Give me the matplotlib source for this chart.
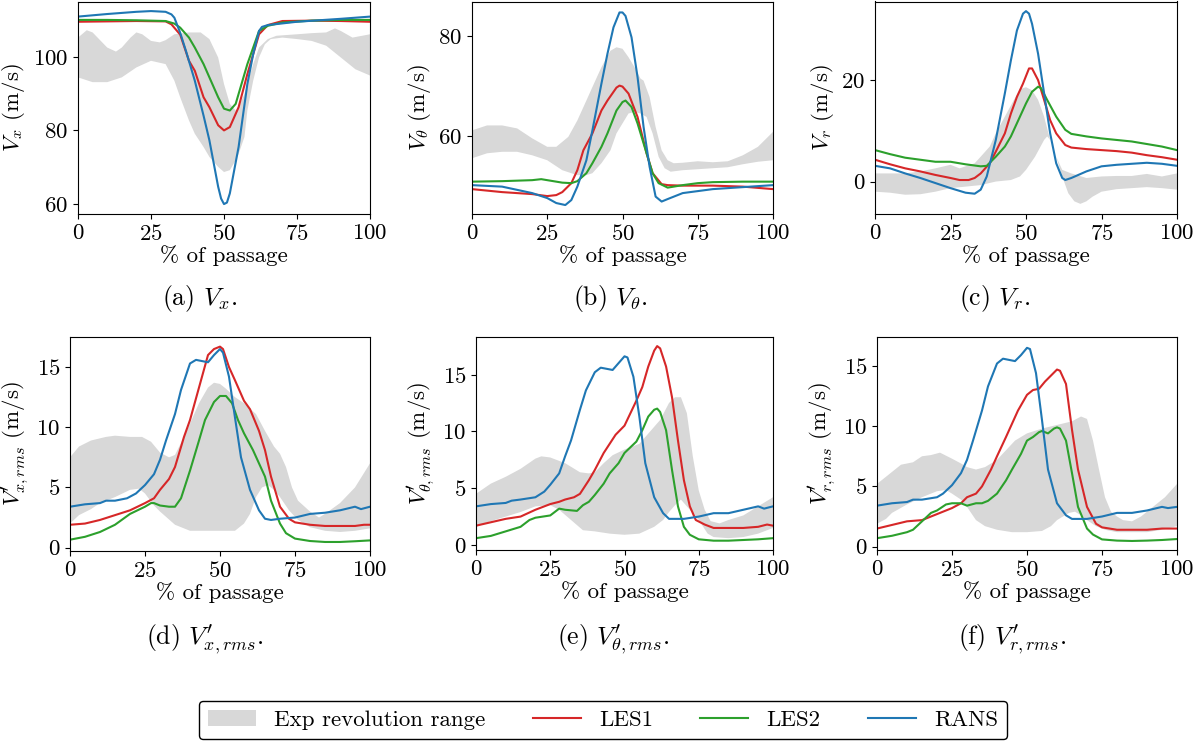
import numpy as np
import matplotlib
matplotlib.use("Agg")
import matplotlib.pyplot as plt
from matplotlib.ticker import MultipleLocator

plt.rcParams['font.family'] = 'serif'
plt.rcParams['font.serif'] = ['cmr10']
plt.rcParams['mathtext.fontset'] = 'cm'
plt.rcParams['axes.formatter.use_mathtext'] = True
plt.rcParams['font.size'] = 16.5

# ---- (a) Vx ----
vx_exp_hi = np.array([(0, 105.2), (3, 107.2), (5, 106.6), (10, 102.5), (13, 101.4), (15, 102.5), (18, 105.2),
                      (20, 106.6), (22, 106.1), (25, 104.3), (28, 103.9), (30, 104.5), (33, 106.1), (38, 106.6),
                      (42, 106.6), (45, 104.8), (48, 99.8), (50, 92.6), (52, 87.2), (54, 85.4), (55, 86.3),
                      (57, 89.9), (60, 98), (62, 102.5), (65, 104.8), (68, 105.7), (75, 106.1), (80, 106.4),
                      (85, 106.6), (88, 107.7), (90, 107), (94, 105.2), (100, 106.1)])
vx_exp_lo = np.array([(0, 94.4), (5, 93.1), (10, 93.1), (15, 94.4), (20, 97.1), (25, 98.9), (30, 98), (33, 93.5),
                      (35, 89), (38, 82.7), (40, 79.1), (43, 75.5), (45, 72.8), (48, 70.1), (50, 68.7), (52, 69.2),
                      (54, 71.9), (55, 73.6), (57, 78.2), (58, 85.4), (60, 93.5), (62, 99.8), (64, 103.4),
                      (66, 104.8), (70, 105.2), (75, 104.8), (80, 104.3), (85, 103), (90, 99.8), (95, 96.6),
                      (100, 94.9)])
vx_les1 = np.array([(0, 109.5), (10, 109.6), (20, 109.7), (30, 109.6), (32, 108.8), (35, 106), (38, 98.9),
                    (40, 96.2), (43, 89), (45, 86.3), (48, 81.4), (50, 80), (52, 80.9), (55, 86.3), (58, 95.3),
                    (60, 100.7), (62, 106.1), (65, 108.6), (70, 109.7), (80, 109.8), (90, 109.7), (100, 109.5)])
vx_les2 = np.array([(0, 110), (10, 110), (20, 109.9), (30, 109.7), (33, 109), (35, 107.9), (38, 105.2),
                    (40, 102.5), (43, 98), (45, 94.4), (48, 89), (50, 85.9), (52, 85.4), (54, 87.2), (56, 92.6),
                    (58, 98), (60, 102.5), (62, 107), (65, 108.4), (70, 109.3), (80, 109.8), (90, 110), (100, 110)])
vx_rans = np.array([(0, 110.9), (10, 111.6), (20, 112.2), (25, 112.4), (30, 112.2), (32, 111.5), (33, 110.6),
                    (35, 106.5), (37, 101.5), (40, 93.5), (43, 84), (45, 77.3), (48, 64.7), (49, 61.5), (50, 60),
                    (51, 60.4), (52, 62.9), (55, 75.5), (58, 92.6), (60, 100.7), (62, 107), (63, 108.1),
                    (65, 108.6), (75, 109.5), (90, 110.3), (100, 110.9)])

# ---- (b) Vtheta ----
vt_exp_hi = np.array([(0, 61.1), (5, 62.1), (10, 62.1), (15, 61.5), (20, 59.5), (25, 57.8), (28, 57.8),
                      (32, 59.8), (35, 63.1), (38, 67.1), (40, 69.8), (43, 73.8), (46, 77.1), (48, 77.8),
                      (50, 77.5), (52, 75.8), (54, 73.8), (56, 71.5), (57, 71.1), (59, 67.8), (61, 61.8),
                      (63, 57.1), (65, 55.1), (67, 54.5), (70, 54.6), (75, 54.9), (80, 54.7), (85, 54.9),
                      (90, 56.1), (95, 57.8), (100, 60.8)])
vt_exp_lo = np.array([(0, 55.5), (5, 56.5), (10, 56.8), (15, 56.8), (20, 56.1), (25, 55.1), (30, 53.1),
                      (35, 52.1), (38, 52.1), (40, 52.5), (43, 54.5), (46, 57.1), (48, 60.5), (50, 62.5),
                      (52, 64.5), (54, 64.8), (56, 64.5), (58, 63.8), (60, 60.5), (62, 55.8), (64, 53.5),
                      (66, 52.8), (70, 53.1), (80, 53.5), (85, 53.7), (90, 54.3), (95, 54.8), (100, 55.1)])
vt_les1 = np.array([(0, 49.3), (10, 48.7), (20, 48.3), (25, 47.9), (28, 48.1), (30, 48.7), (33, 50.5), (35, 53.1),
                    (37, 57.1), (40, 60.5), (43, 65.1), (45, 67.1), (48, 69.7), (49, 70.1), (50, 69.9),
                    (52, 68.5), (55, 63.8), (58, 56.5), (60, 52.5), (63, 50.3), (65, 50.1), (70, 50), (80, 50),
                    (90, 49.8), (100, 49.3)])
vt_les2 = np.array([(0, 50.8), (10, 50.9), (20, 51.1), (23, 51.3), (25, 51.1), (30, 50.6), (33, 50.5),
                    (35, 50.9), (38, 52.5), (40, 54.5), (43, 57.8), (45, 60.5), (48, 65.1), (50, 66.8),
                    (51, 67.1), (53, 65.8), (55, 62.5), (58, 56.5), (60, 52.5), (62, 50.5), (65, 49.6),
                    (70, 50.1), (75, 50.5), (80, 50.7), (90, 50.8), (100, 50.8)])
vt_rans = np.array([(0, 50.1), (10, 49.8), (20, 48.5), (25, 47.5), (28, 46.5), (31, 46.1), (33, 47.1),
                    (35, 49.8), (38, 55.1), (40, 61.1), (43, 70.5), (45, 76.5), (47, 81.8), (49, 84.8),
                    (50, 84.8), (51, 84.1), (53, 79.8), (55, 71.8), (57, 61.8), (59, 53.8), (61, 47.8),
                    (63, 46.8), (65, 47.3), (70, 48.5), (75, 48.9), (80, 49.3), (90, 49.7), (100, 50.1)])

# ---- (c) Vr ----
vr_exp_hi = np.array([(0, 1.6), (10, 1.6), (15, 2), (20, 2.6), (25, 3.3), (28, 2.6), (30, 3), (33, 3.6),
                      (35, 4.9), (38, 6.9), (40, 9.5), (43, 12.8), (46, 16.1), (48, 18.2), (50, 18.6), (52, 18),
                      (54, 16.1), (56, 12.8), (58, 8.2), (60, 4.9), (62, 2.3), (65, 1.6), (70, 0.7), (75, 1),
                      (80, 1.1), (85, 1.1), (90, 1.5), (95, 1), (100, 1.6)])
vr_exp_lo = np.array([(0, -2), (5, -2.2), (10, -2.6), (15, -2.5), (20, -2), (25, -1.3), (30, -1), (35, -0.7),
                      (40, 0), (45, 0.3), (48, 1), (50, 2.3), (53, 4.9), (56, 8.2), (57, 8.9), (58, 8.2),
                      (60, 4.9), (62, 1), (64, -2.3), (66, -3.9), (68, -4.4), (70, -3.9), (72, -3), (75, -2),
                      (80, -1.5), (85, -1.3), (90, -1.1), (95, -1.3), (100, -1.6)])
vr_les1 = np.array([(0, 4.3), (5, 3.4), (10, 2.6), (15, 2), (20, 1.3), (25, 0.7), (28, 0.3), (31, 0.3),
                    (33, 0.7), (35, 1.6), (38, 3.6), (40, 5.9), (43, 9.5), (45, 13.4), (47, 16.7), (49, 19.3),
                    (51, 22.3), (52, 22.3), (54, 20), (56, 16.1), (58, 12.1), (60, 9.5), (63, 7.2), (65, 6.7),
                    (70, 6.4), (75, 6.2), (80, 6), (85, 5.7), (90, 5.2), (95, 4.8), (100, 4.3)])
vr_les2 = np.array([(0, 6.2), (5, 5.4), (10, 4.7), (15, 4.3), (20, 3.9), (25, 3.9), (30, 3.4), (35, 3),
                    (37, 3.1), (40, 4.9), (43, 6.9), (45, 8.9), (48, 12.8), (50, 15.4), (52, 17.7), (54, 18.7),
                    (55, 18.4), (57, 16.1), (60, 12.8), (63, 10.2), (65, 9.4), (70, 8.9), (75, 8.5), (80, 8.2),
                    (85, 7.9), (90, 7.4), (95, 6.9), (100, 6.2)])
vr_rans = np.array([(0, 3.1), (5, 2.6), (10, 1.6), (15, 0.7), (20, -0.3), (25, -1.3), (30, -2.2), (33, -2.4),
                    (35, -1.6), (37, 1), (40, 8.2), (43, 17.4), (45, 23.9), (47, 29.8), (49, 33.1), (50, 33.6),
                    (51, 33.1), (52, 31.1), (54, 25.2), (56, 17.4), (58, 9.5), (60, 3.6), (62, 0.7), (63, 0.3),
                    (65, 0.7), (70, 2), (75, 3), (80, 3.3), (85, 3.5), (90, 3.7), (95, 3.5), (100, 3.1)])

# ---- (d) Vx' rms ----
vxr_exp_hi = np.array([(0, 7.5), (3, 8.4), (7, 8.9), (12, 9.2), (15, 9.3), (20, 9.2), (24, 9.2), (27, 8.8),
                       (30, 7.9), (33, 7.5), (35, 7.7), (38, 9.2), (40, 10.3), (43, 12), (46, 13.3), (48, 13.7),
                       (50, 13.6), (52, 13.2), (55, 12.5), (58, 12), (62, 11.1), (65, 9.7), (68, 8.4), (70, 7.8),
                       (72, 6.7), (74, 5), (76, 3.9), (80, 3), (83, 2.5), (85, 2.8), (90, 3.7), (95, 5), (100, 7)])
vxr_exp_lo = np.array([(0, 2), (3, 2.7), (7, 3.2), (10, 3.7), (15, 4.2), (20, 4.8), (23, 4.9), (25, 4.5),
                       (28, 3.5), (30, 3), (35, 1.9), (40, 1.4), (45, 1.4), (50, 1.4), (55, 1.4), (58, 2),
                       (60, 2.8), (62, 4.2), (64, 5), (66, 5.2), (68, 4.8), (70, 4.2), (73, 3.1), (76, 2.3),
                       (80, 1.7), (85, 1.4), (90, 1.3), (95, 1.4), (100, 1.6)])
vxr_les1 = np.array([(0, 1.9), (5, 2), (10, 2.3), (15, 2.7), (20, 3.1), (25, 3.7), (28, 4.1), (30, 4.8),
                     (33, 5.7), (35, 6.7), (38, 9.2), (40, 10.6), (43, 13.3), (46, 16), (48, 16.5), (50, 16.7),
                     (51, 16.5), (53, 15), (55, 13.9), (58, 12.2), (60, 11.5), (63, 9.7), (65, 8.1), (67, 5.9),
                     (70, 3.4), (73, 2.4), (75, 2.1), (80, 1.9), (85, 1.8), (90, 1.8), (95, 1.8), (98, 1.9),
                     (100, 1.9)])
vxr_les2 = np.array([(0, 0.66), (5, 0.9), (10, 1.3), (15, 1.9), (20, 2.8), (25, 3.4), (27, 3.7), (28, 3.7),
                     (30, 3.5), (33, 3.4), (35, 3.4), (37, 4.1), (40, 6.4), (43, 8.9), (45, 10.6), (48, 12.1),
                     (50, 12.6), (52, 12.6), (54, 12), (56, 10.6), (58, 9.5), (61, 8.1), (63, 7), (65, 5.9),
                     (67, 3.9), (70, 2), (72, 1.2), (75, 0.75), (80, 0.55), (85, 0.47), (90, 0.47), (95, 0.53),
                     (100, 0.6)])
vxr_rans = np.array([(0, 3.4), (5, 3.6), (10, 3.7), (12, 3.9), (15, 3.9), (19, 4.1), (22, 4.5), (25, 5.2),
                     (28, 6.1), (30, 7.3), (32, 8.9), (35, 11.1), (37, 13.1), (40, 15.3), (42, 15.6),
                     (44, 15.5), (46, 15.4), (48, 16), (50, 16.5), (51, 16.2), (53, 14.2), (55, 10.8),
                     (57, 7.5), (60, 4.8), (63, 3.1), (65, 2.4), (67, 2.3), (70, 2.4), (75, 2.5), (80, 2.8),
                     (85, 2.9), (90, 3.1), (95, 3.4), (97, 3.2), (100, 3.4)])

# ---- (e) Vtheta' rms ----
vtr_exp_hi = np.array([(0, 4.5), (5, 5.4), (10, 6), (15, 6.7), (20, 7.6), (22, 7.8), (25, 7.7), (30, 7.2),
                       (35, 6.4), (38, 6.3), (40, 6.4), (43, 7.2), (46, 7.9), (50, 8.4), (55, 8.9), (58, 9.8),
                       (62, 11), (65, 12.5), (67, 13), (69, 13), (71, 11.6), (73, 7.8), (75, 4.8), (77, 3.1),
                       (79, 2.1), (82, 1.9), (85, 2.2), (90, 2.6), (95, 3.4), (100, 4.2)])
vtr_exp_lo = np.array([(0, 1.6), (5, 2.1), (10, 2.5), (15, 2.9), (20, 3.4), (25, 3.5), (28, 3.1), (32, 2.2),
                       (36, 1.3), (40, 1.2), (45, 1), (50, 0.9), (55, 1), (60, 1.6), (63, 2.2), (65, 2.9),
                       (67, 3.5), (69, 4), (70, 3.7), (72, 3.1), (75, 2.2), (78, 1), (80, 0.7), (85, 0.6),
                       (90, 0.7), (95, 1), (100, 1.5)])
vtr_les1 = np.array([(0, 1.7), (5, 2), (10, 2.3), (15, 2.5), (20, 3.1), (25, 3.6), (28, 3.8), (30, 4),
                     (33, 4.2), (35, 4.5), (38, 5.7), (40, 6.6), (43, 8.1), (45, 8.9), (47, 9.7), (50, 10.5),
                     (52, 11.6), (54, 12.7), (56, 13.9), (58, 15.7), (60, 17.1), (61, 17.5), (62, 17.3),
                     (64, 15.7), (66, 13), (68, 9.2), (70, 5.7), (72, 3.4), (74, 2.2), (77, 1.8), (80, 1.5),
                     (85, 1.5), (90, 1.5), (95, 1.6), (98, 1.8), (100, 1.7)])
vtr_les2 = np.array([(0, 0.6), (5, 0.8), (10, 1.2), (15, 1.6), (18, 2.2), (20, 2.4), (25, 2.6), (28, 3.2),
                     (30, 3.1), (34, 3), (36, 3.5), (38, 3.8), (40, 4.4), (43, 5.4), (45, 6.3), (48, 7.2),
                     (50, 8.1), (52, 8.6), (54, 9.1), (56, 10.1), (58, 11.3), (60, 11.9), (61, 12), (62, 11.7),
                     (64, 10.1), (66, 6.6), (68, 3.4), (70, 1.6), (72, 0.9), (75, 0.5), (80, 0.38), (85, 0.38),
                     (90, 0.44), (95, 0.5), (100, 0.6)])
vtr_rans = np.array([(0, 3.4), (5, 3.6), (10, 3.7), (12, 3.9), (15, 4), (20, 4.2), (23, 4.7), (25, 5.3),
                     (28, 6.3), (30, 7.8), (32, 9.2), (35, 11.9), (37, 13.6), (40, 15.2), (42, 15.6),
                     (44, 15.5), (46, 15.4), (48, 16), (50, 16.6), (51, 16.5), (53, 14.8), (55, 11.3),
                     (57, 7.2), (60, 4.2), (63, 2.8), (65, 2.3), (67, 2.3), (70, 2.3), (75, 2.5), (80, 2.8),
                     (85, 2.8), (90, 3.1), (95, 3.4), (97, 3.2), (100, 3.4)])

# ---- (f) Vr' rms ----
vrr_exp_hi = np.array([(0, 5.2), (3, 5.8), (5, 6.2), (8, 6.8), (12, 7), (15, 7.5), (18, 7.6), (21, 7.8),
                       (25, 7.3), (28, 6.9), (30, 6.6), (33, 6.4), (36, 6.6), (40, 7.2), (43, 8), (46, 8.8),
                       (50, 9.4), (55, 9.8), (60, 10.1), (65, 10.4), (68, 10.8), (70, 10.6), (72, 8.8),
                       (74, 6.4), (76, 4.1), (78, 2.9), (80, 2.5), (82, 2.2), (85, 2.1), (88, 2.5), (92, 3.3),
                       (96, 4.1), (100, 5.2)])
vrr_exp_lo = np.array([(0, 1.9), (3, 2.3), (5, 2.8), (10, 3.5), (15, 4.1), (20, 4.6), (23, 4.7), (25, 4.4),
                       (28, 3.9), (30, 3.3), (33, 2.2), (36, 1.7), (40, 1.4), (45, 1.2), (50, 1.2), (55, 1.3),
                       (58, 1.7), (60, 2.2), (62, 2.5), (64, 2.8), (66, 2.9), (68, 2.6), (70, 2.2), (73, 1.7),
                       (76, 1.4), (80, 1.2), (85, 1.2), (90, 1.2), (95, 1.4), (100, 1.7)])
vrr_les1 = np.array([(0, 1.5), (5, 1.8), (10, 2.1), (15, 2.2), (20, 2.7), (25, 3.2), (28, 3.6), (30, 4.1),
                     (33, 4.4), (35, 5), (38, 6.4), (40, 7.5), (43, 9.1), (45, 10.2), (47, 11.3), (50, 12.6),
                     (52, 13), (54, 13.1), (56, 13.7), (58, 14.2), (60, 14.7), (61, 14.6), (63, 13.5),
                     (65, 9.7), (67, 6.4), (70, 3.3), (73, 1.9), (75, 1.6), (80, 1.4), (85, 1.4), (90, 1.4),
                     (95, 1.5), (100, 1.5)])
vrr_les2 = np.array([(0, 0.7), (5, 0.9), (10, 1.2), (12, 1.4), (15, 2.1), (18, 2.8), (20, 3), (23, 3.5),
                     (25, 3.6), (28, 3.6), (30, 3.4), (33, 3.6), (35, 3.6), (37, 3.8), (40, 4.4), (43, 5.5),
                     (45, 6.4), (48, 7.7), (50, 8.8), (52, 9.1), (54, 9.5), (55, 9.6), (57, 9.4), (59, 9.8),
                     (60, 9.9), (61, 9.8), (63, 8.8), (65, 6.1), (67, 3.3), (70, 1.5), (72, 1), (75, 0.6),
                     (80, 0.5), (85, 0.47), (90, 0.5), (95, 0.55), (100, 0.63)])
vrr_rans = np.array([(0, 3.4), (5, 3.6), (10, 3.7), (12, 3.9), (15, 3.9), (20, 4.1), (22, 4.4), (25, 5.1),
                     (28, 6.1), (30, 7.2), (32, 8.8), (35, 11.3), (37, 13.3), (40, 15.2), (42, 15.6),
                     (44, 15.5), (46, 15.4), (48, 15.9), (50, 16.5), (51, 16.4), (53, 14.4), (55, 10.5),
                     (57, 6.4), (60, 3.6), (63, 2.6), (65, 2.3), (67, 2.3), (70, 2.3), (75, 2.5), (80, 2.8),
                     (85, 2.8), (90, 3), (95, 3.3), (97, 3.2), (100, 3.3)])

ylabels = [r'$V_x$ (m/s)', r'$V_\theta$ (m/s)', r'$V_r$ (m/s)',
           r"$V^{\prime}_{x,rms}$ (m/s)", r"$V^{\prime}_{\theta,rms}$ (m/s)", r"$V^{\prime}_{r,rms}$ (m/s)"]
captions = [r'(a) $V_x$.', r'(b) $V_\theta$.', r'(c) $V_r$.',
            r"(d) $V^{\prime}_{x,rms}$.", r"(e) $V^{\prime}_{\theta,rms}$.", r"(f) $V^{\prime}_{r,rms}$."]
ylims = [(57.3, 115), (44.3, 87), (-6.4, 35.5), (-0.28, 17.5), (-0.44, 18.3), (-0.28, 17.4)]
ysteps = [20, 20, 20, 5, 5, 5]

panels = [(vx_exp_hi, vx_exp_lo, vx_les1, vx_les2, vx_rans),
          (vt_exp_hi, vt_exp_lo, vt_les1, vt_les2, vt_rans),
          (vr_exp_hi, vr_exp_lo, vr_les1, vr_les2, vr_rans),
          (vxr_exp_hi, vxr_exp_lo, vxr_les1, vxr_les2, vxr_rans),
          (vtr_exp_hi, vtr_exp_lo, vtr_les1, vtr_les2, vtr_rans),
          (vrr_exp_hi, vrr_exp_lo, vrr_les1, vrr_les2, vrr_rans)]

# axes boxes in pixels: left, right, top, bottom
W, H = 1203, 744
boxes = [(78, 370, 1.5, 214), (472, 773, 1.5, 214), (875, 1177, 1.5, 214),
         (70, 370, 337, 551), (476, 773, 337, 550), (877, 1177, 337, 550)]
cap_pos = [(200, 298), (610, 298), (995, 298), (205, 640), (613, 640), (1012, 640)]

fig = plt.figure(figsize=(W / 100, H / 100), dpi=100)

for i, (hi, lo, les1, les2, rans) in enumerate(panels):
    l, r, t, b = boxes[i]
    ax = fig.add_axes([l / W, 1 - b / H, (r - l) / W, (b - t) / H])
    band_x = np.concatenate([hi[:, 0], lo[::-1, 0]])
    band_y = np.concatenate([hi[:, 1], lo[::-1, 1]])
    ax.fill(band_x, band_y, color='#d8d8d8', lw=0, label='Exp revolution range')
    ax.plot(les1[:, 0], les1[:, 1], color='#d62728', lw=1.5, label='LES1')
    ax.plot(les2[:, 0], les2[:, 1], color='#2ca02c', lw=1.5, label='LES2')
    ax.plot(rans[:, 0], rans[:, 1], color='#1f77b4', lw=1.5, label='RANS')
    ax.set_xlim(0, 100)
    ax.set_ylim(*ylims[i])
    ax.xaxis.set_major_locator(MultipleLocator(25))
    ax.yaxis.set_major_locator(MultipleLocator(ysteps[i]))
    ax.set_xlabel('% of passage', labelpad=1)
    ax.set_ylabel(ylabels[i], labelpad=4)
    cx, cy = cap_pos[i]
    fig.text(cx / W, 1 - cy / H, captions[i], ha='center', va='center', fontsize=18.5)
    if i == 0:
        handles, labels = ax.get_legend_handles_labels()

fig.legend(handles, labels, loc='center', bbox_to_anchor=(603 / W, 1 - 720 / H), ncol=4,
           frameon=True, edgecolor='black', fancybox=True, framealpha=1,
           handlelength=2.1, handletextpad=0.8, columnspacing=2.05, borderpad=0.4)

fig.savefig('out.png', dpi=100)
